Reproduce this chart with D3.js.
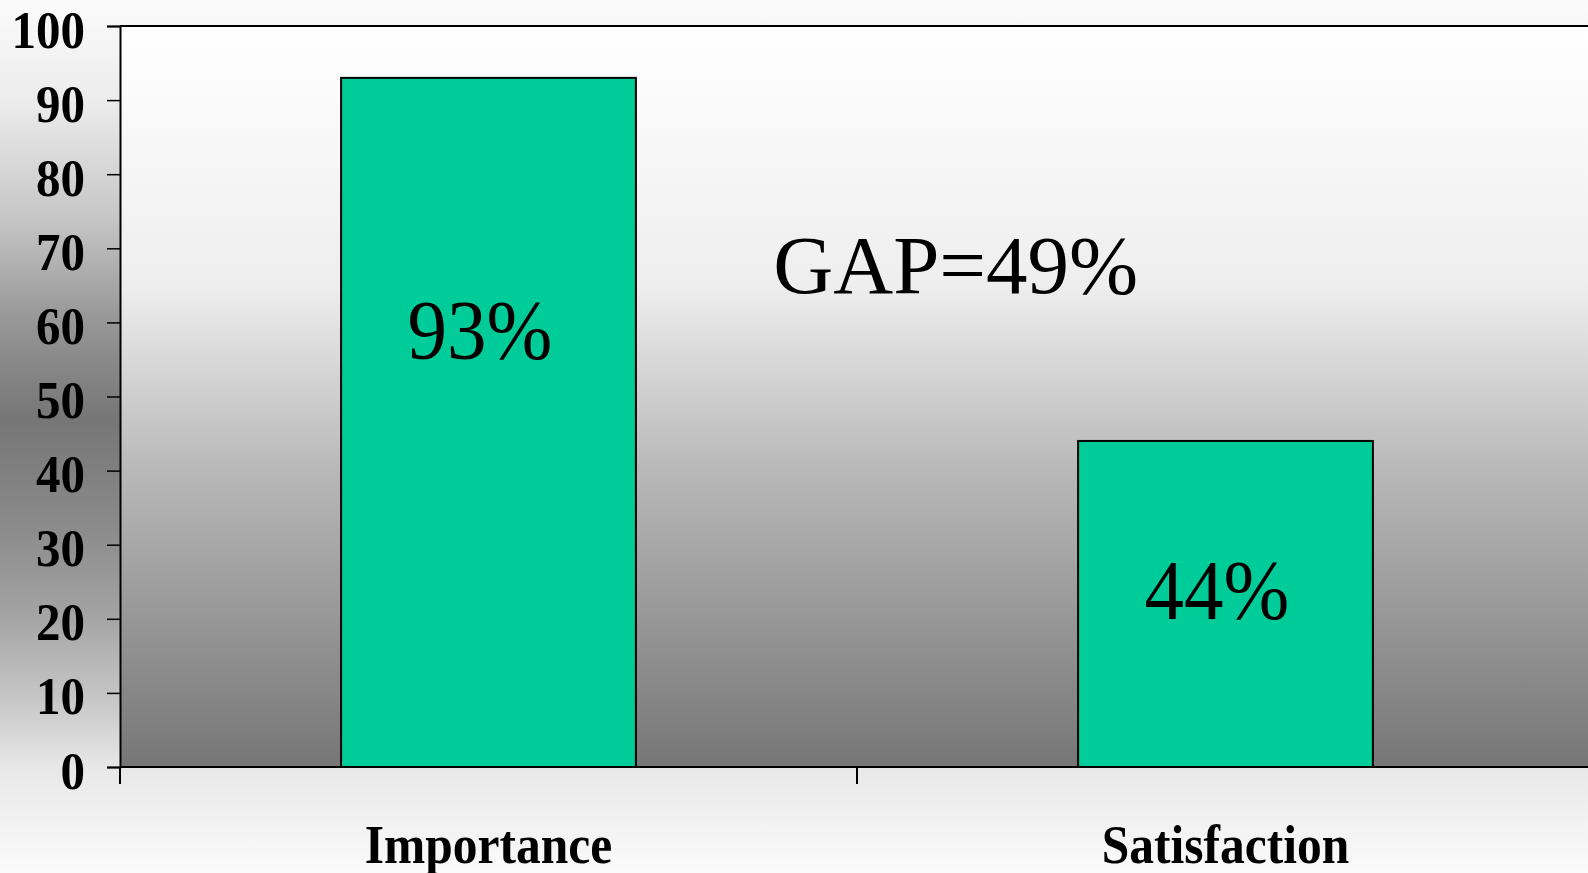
<!DOCTYPE html>
<html>
<head>
<meta charset="utf-8">
<script src="https://cdn.jsdelivr.net/npm/d3@7"></script>
<style>
  html, body { margin: 0; padding: 0; overflow: hidden; background: #fafafa; }
  svg { display: block; }
  text { font-family: "Liberation Serif", "Times New Roman", Times, serif; fill: #000; }
</style>
</head>
<body>
<svg id="chart" width="1588" height="873"></svg>
<script>
// Survey result: importance vs. satisfaction (percent)
const categories = ["Importance", "Satisfaction"];
const values = [93, 44];
const yTicks = [0, 10, 20, 30, 40, 50, 60, 70, 80, 90, 100];
// height (in axis units) of each value label's baseline inside its bar
const labelAt = [55, 20];
const gapLabelAt = 64;

const W = 1588, H = 873;
const plot = { left: 120, right: 1594, top: 26, bottom: 767 };

const svg = d3.select("#chart");
const defs = svg.append("defs");

// page background: light at top and bottom, darker grey through the middle
const bgGrad = defs.append("linearGradient").attr("id", "bgGrad")
  .attr("x1", 0).attr("y1", 0).attr("x2", 0).attr("y2", 1);
[[0, "#fbfbfb"], [0.12, "#ebebeb"], [0.25, "#c6c6c6"], [0.36, "#999999"],
 [0.48, "#767676"], [0.6, "#8a8a8a"], [0.7, "#a2a2a2"], [0.8, "#c6c6c6"],
 [0.88, "#e8e8e8"], [1, "#fbfbfb"]]
  .forEach(([o, c]) => bgGrad.append("stop").attr("offset", o).attr("stop-color", c));

// plot area: white at top fading to mid grey at the baseline
const plotGrad = defs.append("linearGradient").attr("id", "plotGrad")
  .attr("x1", 0).attr("y1", 0).attr("x2", 0).attr("y2", 1);
[[0, "#ffffff"], [0.35, "#eeeeee"], [0.6, "#b8b8b8"], [1, "#767676"]]
  .forEach(([o, c]) => plotGrad.append("stop").attr("offset", o).attr("stop-color", c));

svg.append("rect").attr("width", W).attr("height", H).attr("fill", "url(#bgGrad)");

const y = d3.scaleLinear().domain([0, 100]).range([plot.bottom, plot.top]);
const x = d3.scaleBand().domain(categories).range([plot.left, plot.right])
  .paddingInner(0.6).paddingOuter(0.3);

svg.append("rect")
  .attr("x", plot.left).attr("y", plot.top)
  .attr("width", plot.right - plot.left).attr("height", plot.bottom - plot.top)
  .attr("fill", "url(#plotGrad)");

// top border of the plot area
svg.append("line")
  .attr("x1", plot.left).attr("x2", plot.right)
  .attr("y1", plot.top).attr("y2", plot.top)
  .attr("stroke", "#000").attr("stroke-width", 2);

// bars
svg.append("g").selectAll("rect").data(categories).join("rect")
  .attr("x", d => x(d))
  .attr("y", (d, i) => y(values[i]))
  .attr("width", x.bandwidth())
  .attr("height", (d, i) => y(0) - y(values[i]))
  .attr("fill", "#00cc99")
  .attr("stroke", "#000").attr("stroke-width", 2);

// y axis
const yAxis = svg.append("g").attr("transform", `translate(${plot.left},0)`)
  .call(d3.axisLeft(y).tickValues(yTicks).tickSize(13).tickFormat(""));
yAxis.select(".domain").attr("stroke", "#000").attr("stroke-width", 2);
yAxis.selectAll(".tick line").attr("stroke", "#000").attr("stroke-width", 1.5);

svg.append("g").selectAll("text").data(yTicks).join("text")
  .attr("text-anchor", "end")
  .attr("font-weight", "bold")
  .attr("font-size", 49)
  .attr("transform", d => `translate(85,${y(d) + 21.5}) scale(1,1.07)`)
  .text(d => d);

// x axis: baseline plus ticks at category boundaries
svg.append("line")
  .attr("x1", plot.left).attr("x2", plot.right)
  .attr("y1", y(0)).attr("y2", y(0))
  .attr("stroke", "#000").attr("stroke-width", 2);
const bounds = d3.range(categories.length + 1).map(i => x.range()[0] + i * x.step());
svg.append("g").selectAll("line").data(bounds).join("line")
  .attr("x1", d => d).attr("x2", d => d)
  .attr("y1", y(0)).attr("y2", y(0) + 17)
  .attr("stroke", "#000").attr("stroke-width", 2);

svg.append("g").selectAll("text").data(categories).join("text")
  .attr("text-anchor", "middle")
  .attr("font-weight", "bold")
  .attr("font-size", 49.5)
  .attr("transform", d => `translate(${x(d) + x.bandwidth() / 2},863) scale(1,1.09)`)
  .text(d => d);

// value labels inside bars
svg.append("g").selectAll("text").data(categories).join("text")
  .attr("text-anchor", "middle")
  .attr("font-size", 79)
  .attr("transform", (d, i) => `translate(${x(d) + x.bandwidth() / 2 - 8.5},${y(labelAt[i])}) scale(1,1.08)`)
  .text((d, i) => values[i] + "%");

// gap between the two measures
svg.append("text")
  .attr("text-anchor", "middle")
  .attr("font-size", 83)
  .attr("transform", `translate(${bounds[1] + 0.134 * x.step()},${y(gapLabelAt)})`)
  .text("GAP=" + (values[0] - values[1]) + "%");
</script>
</body>
</html>
